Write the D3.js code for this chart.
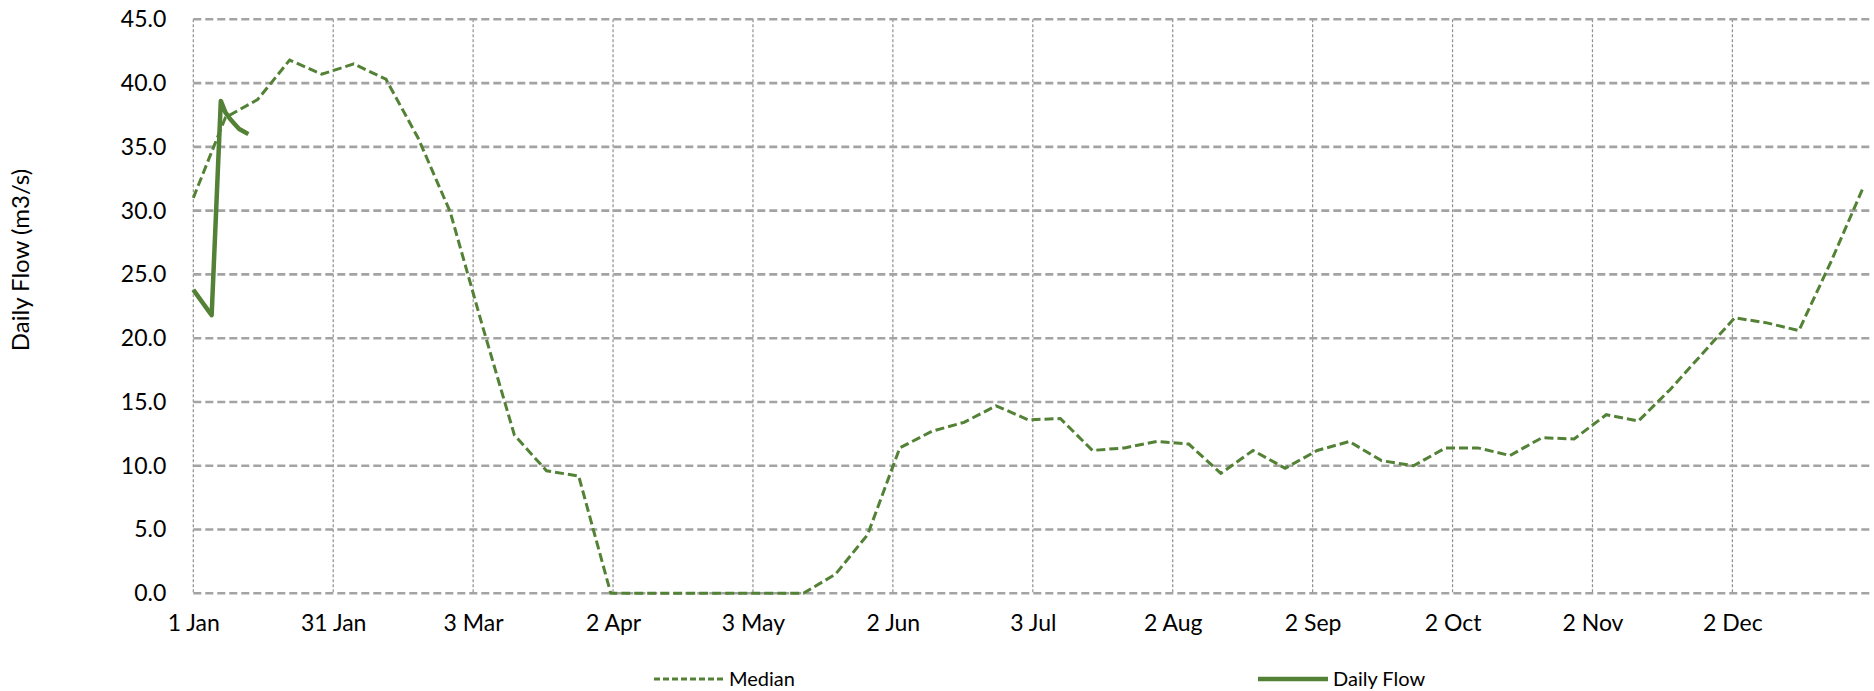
<!DOCTYPE html>
<html>
<head>
<meta charset="utf-8">
<script src="https://cdn.jsdelivr.net/npm/d3@7"></script>
<style>
  body { margin: 0; background: #fff; }
  text { font-family: Lato, "Open Sans", sans-serif; fill: #000; }
</style>
</head>
<body>
<svg id="chart" width="1874" height="691"></svg>
<script>
// tick labels along the year (major unit of 30.5 days)
const tickLabels = ["1 Jan", "31 Jan", "3 Mar", "2 Apr", "3 May", "2 Jun",
  "3 Jul", "2 Aug", "2 Sep", "2 Oct", "2 Nov", "2 Dec"];
const yTicks = [0, 5, 10, 15, 20, 25, 30, 35, 40, 45];

// median flow, one point each week from 1 Jan
const medianValues = [
  31.0, 37.3, 38.7, 41.8, 40.7, 41.5, 40.3, 35.7, 29.9, 21.0,
  12.4, 9.6, 9.2, 0.0, 0.0, 0.0, 0.0, 0.0, 0.0, 0.0,
  1.5, 4.6, 11.4, 12.7, 13.4, 14.7, 13.6, 13.7, 11.2, 11.4,
  11.9, 11.7, 9.4, 11.2, 9.8, 11.2, 11.9, 10.4, 10.0, 11.4,
  11.4, 10.8, 12.2, 12.1, 14.0, 13.5, 16.0, 18.8, 21.6, 21.2,
  20.6, 26.0, 31.8
];

// daily flow, one point per day from 1 Jan
const dailyValues = [23.8, 23.3, 22.8, 22.3, 21.8, 30.2, 38.6, 37.7, 37.2, 36.8, 36.4, 36.2, 36.0];

const greenColour = "#538135";

const svg = d3.select("#chart");
const margin = { left: 193.3, top: 19.3 };
const plotW = 1679;
const plotH = 574;

const x = d3.scaleLinear().domain([0, 366]).range([margin.left, margin.left + plotW]);
const y = d3.scaleLinear().domain([0, 45]).range([margin.top + plotH, margin.top]);

// vertical gridlines (thin dotted)
const tickDays = tickLabels.map((d, i) => i * 30.5);
svg.append("g")
  .selectAll("line")
  .data(tickDays)
  .join("line")
  .attr("x1", (d) => x(d))
  .attr("x2", (d) => x(d))
  .attr("y1", y(45))
  .attr("y2", y(0))
  .style("stroke", "#8f8f8f")
  .style("stroke-width", 1.2)
  .style("stroke-dasharray", "3,2");

// horizontal gridlines (thick dashed)
svg.append("g")
  .selectAll("line")
  .data(yTicks)
  .join("line")
  .attr("x1", x(0))
  .attr("x2", x(366) - 3)
  .attr("y1", (d) => y(d))
  .attr("y2", (d) => y(d))
  .style("stroke", "#a3a3a3")
  .style("stroke-width", 2.6)
  .style("stroke-dasharray", "8,4");

// y axis labels
const yAxis = d3.axisLeft(y)
  .tickValues(yTicks)
  .tickFormat(d3.format(".1f"))
  .tickSize(0)
  .tickPadding(27);
svg.append("g")
  .attr("transform", `translate(${x(0)},0)`)
  .call(yAxis)
  .call((g) => g.select(".domain").remove())
  .selectAll("text")
  .style("font-size", "23px")
  .style("font-family", "Lato, sans-serif");

// x axis labels
const xAxis = d3.axisBottom(x)
  .tickValues(tickDays)
  .tickFormat((d, i) => tickLabels[i])
  .tickSize(0)
  .tickPadding(21);
svg.append("g")
  .attr("transform", `translate(0,${y(0)})`)
  .call(xAxis)
  .call((g) => g.select(".domain").remove())
  .selectAll("text")
  .style("font-size", "23px")
  .style("font-family", "Lato, sans-serif");

// y axis title
svg.append("text")
  .attr("transform", `translate(29,${260}) rotate(-90)`)
  .attr("text-anchor", "middle")
  .style("font-size", "24px")
  .text("Daily Flow (m3/s)");

const line = d3.line()
  .x((d) => x(d.day))
  .y((d) => y(d.value));

const medianData = medianValues.map((v, i) => ({ day: i * 7, value: v }));
const dailyData = dailyValues.map((v, i) => ({ day: i, value: v }));

svg.append("path")
  .attr("d", line(medianData))
  .style("fill", "none")
  .style("stroke", greenColour)
  .style("stroke-width", 3)
  .style("stroke-dasharray", "9,4");

svg.append("path")
  .attr("d", line(dailyData))
  .style("fill", "none")
  .style("stroke", greenColour)
  .style("stroke-width", 4.5)
  .style("stroke-linejoin", "round");

// legend
const legendItems = [
  { name: "Median", x: 654, dash: "6,3", width: 3 },
  { name: "Daily Flow", x: 1258, dash: null, width: 4.5 }
];
const legend = svg.append("g");
legendItems.forEach((item) => {
  legend.append("line")
    .attr("x1", item.x)
    .attr("x2", item.x + 70)
    .attr("y1", 679)
    .attr("y2", 679)
    .style("stroke", greenColour)
    .style("stroke-width", item.width)
    .style("stroke-dasharray", item.dash);
  legend.append("text")
    .attr("x", item.x + 75)
    .attr("y", 679)
    .attr("dy", "0.35em")
    .style("font-size", "20px")
    .text(item.name);
});
</script>
</body>
</html>
